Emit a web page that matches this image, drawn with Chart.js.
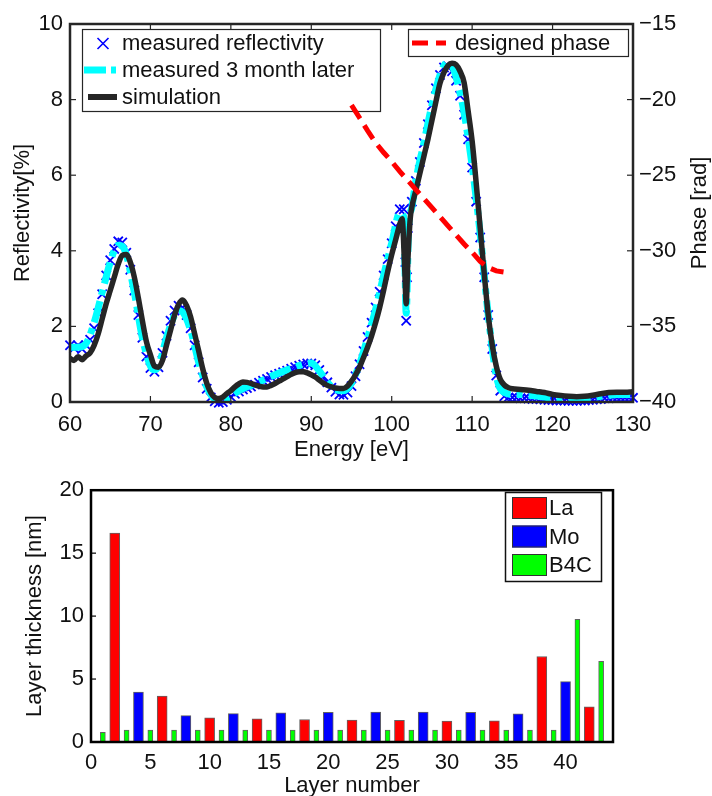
<!DOCTYPE html>
<html><head><meta charset="utf-8">
<script src="https://cdn.jsdelivr.net/npm/chart.js@4.4.1/dist/chart.umd.min.js"></script>
<style>
html,body{margin:0;padding:0;background:#fff;}
#wrap{position:relative;width:712px;height:796px;overflow:hidden;}
.box{position:absolute;left:0;}
</style></head><body>
<div id="wrap">
<div class="box" style="top:0;width:712px;height:470px"><canvas id="c1" width="712" height="470"></canvas></div>
<div class="box" style="top:470px;width:712px;height:326px"><canvas id="c2" width="712" height="326"></canvas></div>
</div>
<script>
// ---------------- DATA: top chart ----------------
const measEnergy = [
  60,60.5,61,61.5,62,62.5,63,63.5,64,64.5,
  65,65.5,66,66.5,67,67.5,68,68.5,69,69.5,
  70,70.5,71,71.5,72,72.5,73,73.5,74,74.5,
  75,75.5,76,76.5,77,77.5,78,78.5,79,79.5,
  80,80.5,81,81.5,82,82.5,83,83.5,84,84.5,
  85,85.5,86,86.5,87,87.5,88,88.5,89,89.5,
  90,90.5,91,91.5,92,92.5,93,93.5,94,94.5,
  95,95.5,96,96.5,97,97.5,98,98.5,99,99.5,
  100,100.5,101,101.5,101.7,101.8,101.9,102,102.5,103,
  103.5,104,104.5,105,105.5,106,106.5,107,107.5,108,
  108.5,109,109.5,110,110.5,111,111.5,112,112.5,113,
  113.5,114,114.5,115,115.5,116,116.5,117,117.5,118,
  118.5,119,119.5,120,120.5,121,121.5,122,122.5,123,
  123.5,124,124.5,125,125.5,126,126.5,127,127.5,128,
  128.5,129,129.5,130
];
const measReflectivity = [
  1.50,1.42,1.50,1.40,1.50,1.65,1.95,2.35,2.85,3.35,
  3.75,4.05,4.25,4.22,3.95,3.50,2.95,2.30,1.70,1.20,
  0.90,0.80,0.92,1.30,1.75,2.15,2.42,2.55,2.50,2.30,
  1.95,1.50,1.05,0.65,0.35,0.12,0.02,-0.02,0.00,0.06,
  0.14,0.22,0.28,0.33,0.37,0.41,0.46,0.51,0.56,0.61,
  0.66,0.71,0.75,0.79,0.83,0.88,0.92,0.96,0.99,1.02,
  1.02,0.97,0.85,0.68,0.52,0.38,0.27,0.20,0.19,0.25,
  0.42,0.68,1.00,1.35,1.72,2.10,2.50,2.92,3.35,3.78,
  4.20,4.65,5.10,5.10,3.70,2.15,3.30,4.60,5.30,5.85,
  6.35,6.85,7.35,7.85,8.30,8.65,8.85,8.88,8.75,8.50,
  8.10,7.60,6.95,6.20,5.30,4.35,3.30,2.30,1.40,0.70,
  0.30,0.15,0.12,0.12,0.11,0.10,0.10,0.09,0.08,0.08,
  0.07,0.06,0.05,0.05,0.04,0.04,0.04,0.03,0.03,0.03,
  0.04,0.04,0.05,0.06,0.07,0.08,0.10,0.10,0.11,0.11,
  0.11,0.11,0.11,0.11
];
const laterEnergy = [
  60,61,62,63,64,65,65.5,66,66.5,67,
  68,69,70,70.5,71,72,73,73.5,74,75,
  76,77,78,79,80,81,82,83,84,85,
  86,87,88,89,90,91,92,93,94,95,
  96,97,98,99,100,101,101.5,101.8,102.1,102.5,
  103,104,105,106,106.5,107,107.5,108,109,110,
  111,112,113,113.5,114,115,116,117,118,119,
  120,121,122,123,124,125,126,127,128,129,130
];
const laterReflectivity = [
  1.45,1.45,1.55,2.10,2.90,3.70,4.00,4.15,4.12,3.90,
  2.90,1.70,0.95,0.85,0.95,1.70,2.30,2.42,2.38,1.90,
  1.05,0.40,0.08,0.05,0.15,0.30,0.40,0.48,0.58,0.68,
  0.77,0.85,0.93,1.00,1.03,0.82,0.52,0.33,0.30,0.50,
  1.00,1.70,2.45,3.35,4.20,5.00,4.90,2.35,4.60,5.15,
  5.85,6.85,7.85,8.65,8.90,9.00,8.90,8.60,7.65,6.25,
  4.45,2.30,0.70,0.35,0.25,0.20,0.20,0.18,0.16,0.13,
  0.10,0.10,0.10,0.10,0.10,0.12,0.15,0.18,0.20,0.20,0.20
];
const simEnergy = [
  60,60.5,61,61.5,62,62.5,63,63.5,64,64.5,
  65,65.5,66,66.5,67,67.5,68,68.5,69,69.5,
  70,70.5,71,71.5,72,72.5,73,73.5,74,74.5,
  75,75.5,76,76.5,77,77.5,78,78.5,79,79.5,
  80,80.5,81,81.5,82,82.5,83,83.5,84,84.5,
  85,85.5,86,86.5,87,87.5,88,88.5,89,89.5,
  90,90.5,91,91.5,92,92.5,93,93.5,94,94.5,
  95,95.5,96,96.5,97,97.5,98,98.5,99,99.5,
  100,100.5,101,101.3,101.6,101.8,102,102.3,102.5,103,
  103.5,104,104.5,105,105.5,106,106.5,107,107.5,108,
  108.5,109,109.5,110,110.5,111,111.5,112,112.5,113,
  113.5,114,114.5,115,116,117,118,119,120,121,
  122,123,124,125,126,127,128,129,130
];
const simReflectivity = [
  1.15,1.10,1.20,1.12,1.22,1.30,1.50,1.80,2.20,2.60,
  2.95,3.30,3.65,3.88,3.90,3.70,3.30,2.75,2.15,1.60,
  1.25,0.95,0.92,1.10,1.50,1.90,2.30,2.58,2.70,2.55,
  2.25,1.80,1.35,0.88,0.50,0.25,0.12,0.09,0.13,0.22,
  0.30,0.40,0.48,0.53,0.52,0.49,0.45,0.42,0.40,0.40,
  0.44,0.49,0.55,0.61,0.67,0.73,0.78,0.80,0.80,0.77,
  0.72,0.66,0.58,0.50,0.44,0.40,0.37,0.36,0.36,0.42,
  0.55,0.72,0.92,1.18,1.45,1.75,2.10,2.50,2.96,3.45,
  3.90,4.30,4.70,4.85,3.60,2.60,3.70,4.85,5.15,5.60,
  6.05,6.50,6.95,7.45,7.95,8.43,8.72,8.90,8.96,8.92,
  8.75,8.45,7.70,6.90,5.80,4.60,3.40,2.30,1.50,0.95,
  0.60,0.45,0.38,0.35,0.33,0.31,0.28,0.25,0.20,0.17,
  0.15,0.14,0.15,0.18,0.22,0.25,0.26,0.26,0.27
];
const phaseEnergy = [95,96,97,98,99,100,101,102,103,104,105,106,107,108,109,110,111,112,113,113.9];
const designedPhase = [-20.36,-21.2,-22.05,-22.85,-23.5,-24.1,-24.75,-25.35,-25.95,-26.55,-27.15,-27.74,-28.35,-28.95,-29.55,-30.1,-30.7,-31.1,-31.33,-31.4];
const seriesNames = ['measured reflectivity','measured 3 month later','simulation','designed phase'];
const phaseTitle = 'Phase [rad]';

// ---------------- DATA: bottom chart ----------------
const laLayers = [2,6,10,14,18,22,26,30,34,38,42];
const laThickness = [16.6,3.64,1.92,1.85,1.79,1.74,1.72,1.67,1.69,6.79,2.79];
const moLayers = [4,8,12,16,20,24,28,32,36,40];
const moThickness = [3.97,2.10,2.26,2.31,2.36,2.38,2.38,2.36,2.23,4.79];
const b4cLayers = [1,3,5,7,9,11,13,15,17,19,21,23,25,27,29,31,33,35,37,39,41,43];
const b4cThickness = [0.77,0.95,0.95,0.95,0.95,0.95,0.95,0.95,0.95,0.95,0.95,0.95,0.95,0.95,0.95,0.95,0.95,0.95,0.95,0.95,9.74,6.41];
const materialNames = ['La','Mo','B4C'];

// ---------------- helpers ----------------
const FAMILY = '"Liberation Sans", Arial, Helvetica, sans-serif';
Chart.defaults.font.family = FAMILY;
Chart.defaults.font.size = 22;
Chart.defaults.color = '#111';
const pts = (xs, ys) => xs.map((x, i) => ({x: x, y: ys[i]}));
const minus = v => String(v).replace('-', '\u2212');

const framePlugin = {
  id: 'frame',
  afterDatasetsDraw(chart, args, o) {
    const {ctx, chartArea: a} = chart;
    ctx.save();
    ctx.setLineDash([]);
    ctx.strokeStyle = o.color;
    ctx.lineWidth = o.tickWidth;
    for (const t of o.ticks) {
      const s = chart.scales[t.scale];
      for (const tk of s.ticks) {
        const p = s.getPixelForValue(tk.value);
        ctx.beginPath();
        for (const side of t.sides) {
          if (side === 'bottom') { ctx.moveTo(p, a.bottom); ctx.lineTo(p, a.bottom - o.len); }
          if (side === 'top') { ctx.moveTo(p, a.top); ctx.lineTo(p, a.top + o.len); }
          if (side === 'left') { ctx.moveTo(a.left, p); ctx.lineTo(a.left + o.len, p); }
          if (side === 'right') { ctx.moveTo(a.right, p); ctx.lineTo(a.right - o.len, p); }
        }
        ctx.stroke();
      }
    }
    ctx.lineWidth = o.width;
    ctx.strokeRect(a.left, a.top, a.right - a.left, a.bottom - a.top);
    ctx.restore();
  }
};

const topLegend = {
  id: 'topLegend',
  beforeDatasetsDraw(chart) {
    const ctx = chart.ctx;
    ctx.save();
    ctx.fillStyle = '#fff';
    ctx.fillRect(82, 29, 299, 83);
    ctx.strokeStyle = '#262626'; ctx.lineWidth = 1.2;
    ctx.strokeRect(82.5, 29.5, 298, 82);
    ctx.strokeStyle = '#0000ff'; ctx.lineWidth = 1.6;
    ctx.beginPath();
    ctx.moveTo(97.5, 38); ctx.lineTo(108.5, 49);
    ctx.moveTo(108.5, 38); ctx.lineTo(97.5, 49);
    ctx.stroke();
    ctx.strokeStyle = '#00ffff'; ctx.lineWidth = 7; ctx.setLineDash([22, 5, 5, 5]);
    ctx.beginPath(); ctx.moveTo(84, 70); ctx.lineTo(118, 70); ctx.stroke();
    ctx.setLineDash([]);
    ctx.strokeStyle = '#262626'; ctx.lineWidth = 6;
    ctx.beginPath(); ctx.moveTo(88, 97); ctx.lineTo(117, 97); ctx.stroke();
    ctx.fillStyle = '#111'; ctx.font = '22px ' + FAMILY;
    ctx.textBaseline = 'middle'; ctx.textAlign = 'left';
    ctx.fillText(seriesNames[0], 122, 44);
    ctx.fillText(seriesNames[1], 122, 71);
    ctx.fillText(seriesNames[2], 122, 98);
    ctx.restore();
  },
  afterDatasetsDraw(chart) {
    const ctx = chart.ctx;
    ctx.save();
    ctx.fillStyle = '#fff';
    ctx.fillRect(408, 29, 221, 28);
    ctx.strokeStyle = '#262626'; ctx.lineWidth = 1.2;
    ctx.strokeRect(408.5, 29.5, 220, 27);
    ctx.strokeStyle = '#ff0000'; ctx.lineWidth = 5; ctx.setLineDash([16, 8]);
    ctx.beginPath(); ctx.moveTo(412, 43); ctx.lineTo(446, 43); ctx.stroke();
    ctx.setLineDash([]);
    ctx.fillStyle = '#111'; ctx.font = '22px ' + FAMILY;
    ctx.textBaseline = 'middle'; ctx.textAlign = 'left';
    ctx.fillText(seriesNames[3], 455, 44);
    ctx.restore();
  },
  afterDraw(chart) {
    // right axis title, reading bottom-to-top like the reference
    const ctx = chart.ctx, a = chart.chartArea;
    ctx.save();
    ctx.translate(700, (a.top + a.bottom) / 2);
    ctx.rotate(-Math.PI / 2);
    ctx.fillStyle = '#111'; ctx.font = '22px ' + FAMILY;
    ctx.textAlign = 'center'; ctx.textBaseline = 'middle';
    ctx.fillText(phaseTitle, 0, 0);
    ctx.restore();
  }
};

new Chart(document.getElementById('c1'), {
  type: 'line',
  data: {
    datasets: [
      {label: seriesNames[3], data: pts(phaseEnergy, designedPhase), yAxisID: 'y2',
       borderColor: '#ff0000', borderWidth: 5, borderDash: [16, 8], pointRadius: 0, fill: false},
      {label: seriesNames[2], data: pts(simEnergy, simReflectivity), yAxisID: 'y',
       borderColor: '#262626', borderWidth: 5.5, pointRadius: 0, cubicInterpolationMode: 'monotone',
       borderJoinStyle: 'round', borderCapStyle: 'round', fill: false},
      {label: seriesNames[1], data: pts(laterEnergy, laterReflectivity), yAxisID: 'y',
       borderColor: '#00ffff', borderWidth: 7, borderDash: [22, 6, 6, 6], pointRadius: 0,
       cubicInterpolationMode: 'monotone', fill: false},
      {label: seriesNames[0], data: pts(measEnergy, measReflectivity), yAxisID: 'y',
       showLine: false, pointStyle: 'crossRot', pointRadius: 6.5, pointBorderWidth: 1.8,
       borderColor: '#0000ff', backgroundColor: '#0000ff', clip: false}
    ]
  },
  options: {
    responsive: false, animation: false, events: [],
    layout: {padding: {top: 24, left: 0, right: 0, bottom: 0}},
    plugins: {
      legend: {display: false}, tooltip: {enabled: false},
      frame: {color: '#262626', width: 2.5, tickWidth: 1.2, len: 6,
        ticks: [{scale: 'x', sides: ['bottom', 'top']}, {scale: 'y', sides: ['left']}, {scale: 'y2', sides: ['right']}]}
    },
    scales: {
      x: {type: 'linear', min: 60, max: 130,
        ticks: {stepSize: 10, padding: 10, maxRotation: 0, autoSkip: false, includeBounds: false},
        grid: {display: false, drawTicks: false}, border: {display: false},
        title: {display: true, text: 'Energy [eV]', padding: {top: 0, bottom: 7}},
        afterFit: s => { s.height = 68; }},
      y: {type: 'linear', position: 'left', min: 0, max: 10,
        ticks: {stepSize: 2, padding: 7},
        grid: {display: false, drawTicks: false}, border: {display: false},
        title: {display: true, text: 'Reflectivity[%]', padding: {top: 10, bottom: 0}},
        afterFit: s => { s.width = 70; }},
      y2: {type: 'linear', position: 'right', min: -40, max: -15,
        ticks: {stepSize: 5, padding: 6, callback: v => minus(v)},
        grid: {display: false, drawTicks: false}, border: {display: false},
        title: {display: false},
        afterFit: s => { s.width = 79; }}
    }
  },
  plugins: [topLegend, framePlugin]
});

const barLegend = {
  id: 'barLegend',
  afterDatasetsDraw(chart) {
    const ctx = chart.ctx;
    ctx.save();
    ctx.fillStyle = '#fff';
    ctx.fillRect(505, 22, 97, 90);
    ctx.strokeStyle = '#111'; ctx.lineWidth = 1.5;
    ctx.strokeRect(505.5, 22.5, 96, 89);
    const cols = ['#ff0000', '#0000ff', '#00ff00'];
    const ys = [27, 55.5, 84];
    ctx.font = '22px ' + FAMILY; ctx.textBaseline = 'middle'; ctx.textAlign = 'left';
    for (let i = 0; i < 3; i++) {
      ctx.fillStyle = cols[i];
      ctx.fillRect(512, ys[i], 35, 22);
      ctx.strokeStyle = '#333'; ctx.lineWidth = 1;
      ctx.strokeRect(512.5, ys[i] + 0.5, 34, 21);
      ctx.fillStyle = '#111';
      ctx.fillText(materialNames[i], 549, ys[i] + 12);
    }
    ctx.restore();
  }
};

new Chart(document.getElementById('c2'), {
  type: 'bar',
  data: {
    datasets: [
      {label: materialNames[0], data: pts(laLayers, laThickness), backgroundColor: '#ff0000',
       borderColor: 'rgba(70,70,70,0.85)', borderWidth: 1, barThickness: 10},
      {label: materialNames[1], data: pts(moLayers, moThickness), backgroundColor: '#0000ff',
       borderColor: 'rgba(70,70,70,0.85)', borderWidth: 1, barThickness: 10},
      {label: materialNames[2], data: pts(b4cLayers, b4cThickness), backgroundColor: '#00ff00',
       borderColor: 'rgba(70,70,70,0.85)', borderWidth: 1, barThickness: 5}
    ]
  },
  options: {
    responsive: false, animation: false, events: [],
    grouped: false,
    layout: {padding: {top: 13, left: 0, right: 99, bottom: 0}},
    plugins: {
      legend: {display: false}, tooltip: {enabled: false},
      frame: {color: '#000', width: 2.5, tickWidth: 1.2, len: 5,
        ticks: [{scale: 'y', sides: ['left']}]}
    },
    scales: {
      x: {type: 'linear', min: 0, max: 44, offset: false,
        ticks: {stepSize: 5, padding: 8, maxRotation: 0, autoSkip: false, includeBounds: false},
        grid: {display: false, drawTicks: false, offset: false}, border: {display: false},
        title: {display: true, text: 'Layer number', font: {lineHeight: 1}, padding: {top: 0, bottom: -1}},
        afterFit: s => { s.height = 54; }},
      y: {type: 'linear', min: 0, max: 20,
        ticks: {stepSize: 5, padding: 7},
        grid: {display: false, drawTicks: false}, border: {display: false},
        title: {display: true, text: 'Layer thickness [nm]', padding: {top: 22, bottom: 0}},
        afterFit: s => { s.width = 91; }}
    }
  },
  plugins: [barLegend, framePlugin]
});
</script>
</body></html>
